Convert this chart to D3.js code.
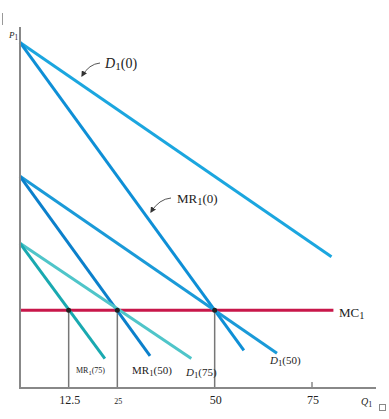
<!DOCTYPE html>
<html>
<head>
<meta charset="utf-8">
<script src="https://cdn.jsdelivr.net/npm/d3@7"></script>
<style>
  body { margin: 0; background: #fff; }
  text { font-family: "Liberation Serif", "DejaVu Serif", serif; fill: #222; }
</style>
</head>
<body>
<div id="chart"></div>
<script>
// svg area
var svgWidth = 389;
var svgHeight = 419;

// data (quantity Q, price P)
var lineNames = ["D1(0)", "MR1(0)", "D1(50)", "MR1(50)", "D1(75)", "MR1(75)"];
var lineStart = [[0, 129], [0, 129], [0, 79], [0, 79], [0, 54], [0, 54]];
var lineEnd = [[80, 49], [57.5, 14], [66, 13], [33.4, 12], [44, 11], [21.8, 11]];
var lineColors = ["#1ba6df", "#0e8fd6", "#1a9ad8", "#0b80cb", "#4fc5c9", "#19a9b0"];
var mcPrice = 29;
var mcRange = [0, 80.5];
var dropQ = [12.5, 25, 50];
var tickValues = [12.5, 25, 50, 75];
var tickLabels = ["12.5", "25", "50", "75"];

var xScale = d3.scaleLinear().domain([0, 75]).range([20, 312]);
var yScale = d3.scaleLinear().domain([0, 134]).range([388, 29]);

var svg = d3.select("#chart")
    .append("svg")
    .attr("width", svgWidth)
    .attr("height", svgHeight);

// small page marks
svg.append("line").attr("x1", 2.5).attr("x2", 2.5).attr("y1", 13).attr("y2", 25)
    .attr("stroke", "#999").attr("stroke-width", 1);
svg.append("rect").attr("x", 379.5).attr("y", 404.5).attr("width", 6).attr("height", 6)
    .attr("fill", "none").attr("stroke", "#888").attr("stroke-width", 1);

// drop lines
svg.append("g").selectAll("line")
    .data(dropQ)
    .enter()
    .append("line")
    .attr("x1", d => xScale(d))
    .attr("x2", d => xScale(d))
    .attr("y1", yScale(mcPrice))
    .attr("y2", yScale(0))
    .attr("stroke", "#777")
    .attr("stroke-width", 1.5);

// MC line
svg.append("line")
    .attr("x1", xScale(mcRange[0]))
    .attr("x2", xScale(mcRange[1]))
    .attr("y1", yScale(mcPrice))
    .attr("y2", yScale(mcPrice))
    .attr("stroke", "#c8174a")
    .attr("stroke-width", 3);

// demand / MR lines
svg.append("g").selectAll("line")
    .data(lineNames)
    .enter()
    .append("line")
    .attr("x1", (d, i) => xScale(lineStart[i][0]))
    .attr("y1", (d, i) => yScale(lineStart[i][1]))
    .attr("x2", (d, i) => xScale(lineEnd[i][0]))
    .attr("y2", (d, i) => yScale(lineEnd[i][1]))
    .attr("stroke", (d, i) => lineColors[i])
    .attr("stroke-width", 3);

// intersection dots
svg.append("g").selectAll("circle")
    .data(dropQ)
    .enter()
    .append("circle")
    .attr("cx", d => xScale(d))
    .attr("cy", yScale(mcPrice))
    .attr("r", 2.5)
    .attr("fill", "#222");

// axes
svg.append("line").attr("x1", 20).attr("x2", 20).attr("y1", 27).attr("y2", 389)
    .attr("stroke", "#888").attr("stroke-width", 2);
svg.append("line").attr("x1", 19).attr("x2", 376).attr("y1", 388).attr("y2", 388)
    .attr("stroke", "#888").attr("stroke-width", 2);
svg.append("line").attr("x1", xScale(75)).attr("x2", xScale(75)).attr("y1", 382).attr("y2", 388)
    .attr("stroke", "#888").attr("stroke-width", 1.5);

// tick labels
svg.append("g").selectAll("text")
    .data(tickValues)
    .enter()
    .append("text")
    .attr("x", d => xScale(d) + 1)
    .attr("y", 404)
    .attr("text-anchor", "middle")
    .attr("font-size", (d, i) => i == 1 ? 8 : 12)
    .text((d, i) => tickLabels[i]);

// label helper: main text with subscript
function subLabel(x, y, main, sub, rest, size, italic) {
    var t = svg.append("text").attr("x", x).attr("y", y).attr("font-size", size);
    t.append("tspan").attr("font-style", italic ? "italic" : "normal").text(main);
    t.append("tspan").attr("font-size", size * 0.8).attr("dy", 2).text(sub);
    t.append("tspan").attr("dy", -2).text(rest);
}

subLabel(9, 38, "P", "1", "", 9, true);
subLabel(361, 405, "Q", "1", "", 10, true);
subLabel(105, 68, "D", "1", "(0)", 14, true);
subLabel(177, 203, "MR", "1", "(0)", 13, false);
subLabel(339, 317, "MC", "1", "", 13, false);
subLabel(76, 373, "MR", "1", "(75)", 8, false);
subLabel(132, 374, "MR", "1", "(50)", 11, false);
subLabel(186, 376, "D", "1", "(75)", 11, true);
subLabel(270, 364, "D", "1", "(50)", 11, true);

// arrows
svg.append("defs").append("marker")
    .attr("id", "ah")
    .attr("viewBox", "0 0 10 10")
    .attr("refX", 8).attr("refY", 5)
    .attr("markerWidth", 6).attr("markerHeight", 6)
    .attr("orient", "auto")
    .append("path").attr("d", "M0,0 L10,5 L0,10 z").attr("fill", "#333");

svg.append("path")
    .attr("d", "M100,63 Q89,64 82,76")
    .attr("fill", "none").attr("stroke", "#555").attr("stroke-width", 1)
    .attr("marker-end", "url(#ah)");
svg.append("path")
    .attr("d", "M171,198 Q159,199 151,212")
    .attr("fill", "none").attr("stroke", "#555").attr("stroke-width", 1)
    .attr("marker-end", "url(#ah)");
</script>
</body>
</html>
